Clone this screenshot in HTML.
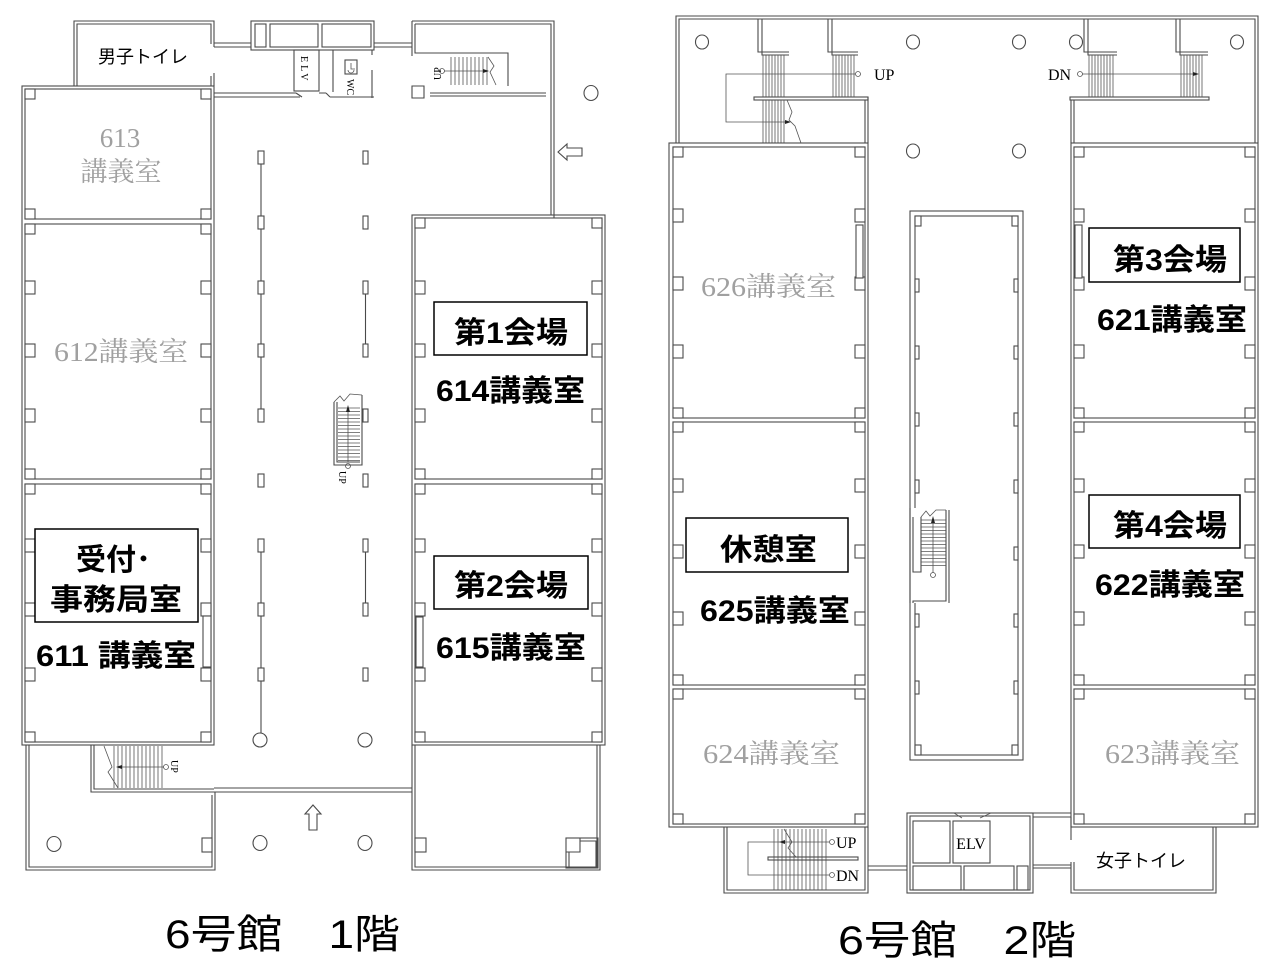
<!DOCTYPE html>
<html><head><meta charset="utf-8"><style>
html,body{margin:0;padding:0;background:#fff;}
svg{display:block;}
.w{fill:none;stroke:#4a4a4a;stroke-width:1.1}
.n{fill:#fff;stroke:#4a4a4a;stroke-width:1.1}
.t{fill:none;stroke:#555;stroke-width:0.8}
.k{fill:#222;stroke:none}
.g{font-family:"Liberation Serif","Noto Serif CJK SC",serif;fill:#a0a0a0;font-size:27px}
.b{font-family:"Liberation Sans","Noto Sans CJK JP",sans-serif;font-weight:bold;fill:#000;font-size:30px}
.s{font-family:"Liberation Serif","Noto Serif CJK SC",serif;fill:#000;font-size:16px}
.ss{font-family:"Liberation Serif","Noto Serif CJK SC",serif;fill:#000;font-size:10px}
.j{font-family:"Liberation Sans","Noto Sans CJK JP",sans-serif;fill:#000;font-size:18px}
.ttl{font-family:"Liberation Sans","Noto Sans CJK JP",sans-serif;fill:#000;font-size:40px}
.box{fill:#fff;stroke:#000;stroke-width:1.5}
</style></head><body>
<svg width="1272" height="970" viewBox="0 0 1272 970" xmlns="http://www.w3.org/2000/svg">
<rect x="0" y="0" width="1272" height="970" fill="#fff"/>

<!-- ================= 1F ================= -->
<!-- men's toilet -->
<path class="w" d="M74,86V21H214V47M214,73V86M77,86V24H211V44M211,76V86"/>
<path class="w" d="M214,43H251M214,47H251"/>
<!-- top block -->
<rect class="w" x="251" y="21" width="123" height="29"/>
<rect class="w" x="255" y="24" width="11" height="23"/>
<rect class="w" x="270" y="24" width="48" height="23"/>
<rect class="w" x="322" y="24" width="49" height="23"/>
<rect class="w" x="294" y="50" width="25" height="41"/>
<path class="w" d="M333,50V92M372,50V55M372,70V98M214,93H296M214,97H300M319,93H326M330,97H374M296,93L302,97M326,93L330,97"/>
<text class="ss" transform="translate(301,56) rotate(90)" letter-spacing="3">ELV</text>
<rect class="w" x="345" y="60" width="12" height="14"/>
<path class="t" d="M348,70a3,3 0 1,0 6,0M351,63V69H355"/>
<text class="ss" transform="translate(347,79) rotate(90)" font-size="11">WC</text>
<path class="w" d="M374,43H412M374,47H412"/>
<!-- stair block top right -->
<path class="w" d="M412,21H554V218M415,24H551V215M412,21V56M415,24V53H508V86M412,86H424V98H412Z"/>
<path class="w" d="M430,93H546M430,96H546"/>
<path class="t" d="M451,57V85M455,57V85M459,57V85M463,57V85M467,57V85M471,57V85M475,57V85M479,57V85M483,57V85M487,57V85"/>
<path class="t" d="M444,71H488M488,57L494,66L490,72L496,85"/>
<circle class="t" cx="442" cy="71" r="2.5"/>
<polygon class="k" points="483,69 489,71 483,73"/>
<text class="ss" transform="translate(441,80) rotate(-90)">UP</text>
<!-- entrance arrow / circle -->
<polygon class="w" points="558,152 567,144 567,148 582,148 582,156 567,156 567,160"/>
<ellipse class="w" cx="591" cy="93" rx="7" ry="7.5"/>

<!-- left rooms column -->
<rect class="w" x="22" y="86" width="192" height="659"/>
<rect class="w" x="25" y="89" width="186" height="130"/>
<rect class="w" x="25" y="224" width="186" height="255"/>
<rect class="w" x="25" y="484" width="186" height="258"/>
<!-- right rooms column -->
<rect class="w" x="412" y="215" width="193" height="530"/>
<rect class="w" x="415" y="218" width="187" height="261"/>
<rect class="w" x="415" y="484" width="187" height="258"/>

<!-- notches 1F -->
<g class="n">
<rect x="25" y="89" width="10" height="10"/><rect x="201" y="89" width="10" height="10"/>
<rect x="25" y="209" width="10" height="10"/><rect x="201" y="209" width="10" height="10"/>
<rect x="25" y="224" width="10" height="10"/><rect x="201" y="224" width="10" height="10"/>
<rect x="25" y="469" width="10" height="10"/><rect x="201" y="469" width="10" height="10"/>
<rect x="25" y="484" width="10" height="10"/><rect x="201" y="484" width="10" height="10"/>
<rect x="25" y="732" width="10" height="10"/><rect x="201" y="732" width="10" height="10"/>
<rect x="25" y="281" width="10" height="13"/><rect x="201" y="281" width="10" height="13"/>
<rect x="25" y="344" width="10" height="13"/><rect x="201" y="344" width="10" height="13"/>
<rect x="25" y="409" width="10" height="13"/><rect x="201" y="409" width="10" height="13"/>
<rect x="25" y="539" width="10" height="13"/><rect x="201" y="539" width="10" height="13"/>
<rect x="25" y="603" width="10" height="13"/><rect x="201" y="603" width="10" height="13"/>
<rect x="25" y="668" width="10" height="13"/><rect x="201" y="668" width="10" height="13"/>

<rect x="415" y="218" width="10" height="10"/><rect x="592" y="218" width="10" height="10"/>
<rect x="415" y="469" width="10" height="10"/><rect x="592" y="469" width="10" height="10"/>
<rect x="415" y="484" width="10" height="10"/><rect x="592" y="484" width="10" height="10"/>
<rect x="415" y="732" width="10" height="10"/><rect x="592" y="732" width="10" height="10"/>
<rect x="415" y="281" width="10" height="13"/><rect x="592" y="281" width="10" height="13"/>
<rect x="415" y="344" width="10" height="13"/><rect x="592" y="344" width="10" height="13"/>
<rect x="415" y="409" width="10" height="13"/><rect x="592" y="409" width="10" height="13"/>
<rect x="415" y="539" width="10" height="13"/><rect x="592" y="539" width="10" height="13"/>
<rect x="415" y="603" width="10" height="13"/><rect x="592" y="603" width="10" height="13"/>
<rect x="415" y="668" width="10" height="13"/><rect x="592" y="668" width="10" height="13"/>
<rect x="203" y="616" width="8" height="51"/>
<rect x="416" y="617" width="7" height="50"/>
</g>

<!-- corridor columns 1F -->
<path class="w" d="M261,164V409M261,552V733M365.5,294V344M365.5,552V603"/>
<g class="n">
<rect x="258" y="151" width="6" height="13"/><rect x="258" y="216" width="6" height="13"/>
<rect x="258" y="281" width="6" height="13"/><rect x="258" y="344" width="6" height="13"/>
<rect x="258" y="409" width="6" height="13"/><rect x="258" y="474" width="6" height="13"/>
<rect x="258" y="539" width="6" height="13"/><rect x="258" y="603" width="6" height="13"/>
<rect x="258" y="668" width="6" height="13"/>
<rect x="363" y="151" width="5" height="13"/><rect x="363" y="216" width="5" height="13"/>
<rect x="363" y="281" width="5" height="13"/><rect x="363" y="344" width="5" height="13"/>
<rect x="363" y="409" width="5" height="13"/><rect x="363" y="474" width="5" height="13"/>
<rect x="363" y="539" width="5" height="13"/><rect x="363" y="603" width="5" height="13"/>
<rect x="363" y="668" width="5" height="13"/>
</g>
<ellipse class="w" cx="260" cy="740" rx="7" ry="7"/>
<ellipse class="w" cx="365" cy="740" rx="7" ry="7"/>

<!-- corridor stair 1F -->
<path class="w" d="M334,402V465H362V395M337,402V462H360"/>
<path class="t" d="M334,402L340,396L344,401L350,394L362,395"/>
<path class="t" d="M338,408H360M338,411.5H360M338,415H360M338,418.5H360M338,422H360M338,425.5H360M338,429H360M338,432.5H360M338,436H360M338,439.5H360M338,443H360M338,446.5H360M338,450H360M338,453.5H360M338,457H360M338,460.5H360"/>
<path class="t" d="M348,462V408"/>
<polygon class="k" points="346,412 348,405 350,412"/>
<circle class="t" cx="348" cy="466" r="2.5"/>
<text class="ss" transform="translate(339,471) rotate(90)">UP</text>

<!-- lower 1F -->
<path class="w" d="M26,745V870H215V792M29,745V867H212V795M91,745V792H214M94,745V789H214"/>
<path class="w" d="M214,788H412M214,792H412"/>
<path class="w" d="M412,745V870H600V745M415,745V867H597V745"/>
<path class="t" d="M114,746V788M118,746V788M122,746V788M126,746V788M130,746V788M134,746V788M138,746V788M142,746V788M146,746V788M150,746V788M154,746V788M158,746V788M162,746V788"/>
<path class="t" d="M118,767H164M104,746L112,767L108,772L118,788"/>
<polygon class="k" points="122,765 116,767 122,769"/>
<circle class="t" cx="166" cy="767" r="2.5"/>
<text class="ss" transform="translate(171,760) rotate(90)" font-size="11">UP</text>
<g class="n">
<rect x="202" y="838" width="10" height="14"/>
<rect x="415" y="838" width="11" height="14"/>
</g>
<rect class="w" x="566" y="838" width="32" height="30"/>
<path class="w" d="M566,852H580V838M569,867V852M580,841H596V867"/>
<ellipse class="w" cx="54" cy="844" rx="7" ry="7.5"/>
<ellipse class="w" cx="260" cy="843" rx="7" ry="7.5"/>
<ellipse class="w" cx="365" cy="843" rx="7" ry="7.5"/>
<polygon class="w" points="313,805 321,814 317,814 317,830 309,830 309,814 305,814"/>

<!-- ================= 2F ================= -->
<path class="w" d="M676,143V16H1258V143M679,143V19H1255V143"/>
<!-- top-left stairs -->
<path class="w" d="M758,19V52H789M762,19V55H789M828,19V52H858M832,19V55H858"/>
<rect class="w" x="754" y="97" width="114" height="3"/>
<path class="w" d="M865,100V143M868,97V143"/>
<path class="t" d="M763,55V97M766,55V97M769,55V97M772,55V97M775,55V97M778,55V97M781,55V97M784,55V97M833,55V97M836,55V97M839,55V97M842,55V97M845,55V97M848,55V97M851,55V97M854,55V97"/>
<path class="t" d="M763,100V143M766,100V143M769,100V143M772,100V143M775,100V143M778,100V143M781,100V143M784,100V143"/>
<path class="t" d="M855,74H726V122H786M787,100L792,112L789,120L795,126L801,143"/>
<polygon class="k" points="785,120 791,122 785,124"/>
<circle class="t" cx="858" cy="74" r="2.5"/>
<text class="s" x="874" y="80">UP</text>
<!-- top-right stairs -->
<path class="w" d="M1084,19V52H1117M1088,19V55H1117M1176,19V52H1208M1180,19V55H1208"/>
<rect class="w" x="1070" y="97" width="139" height="3"/>
<path class="w" d="M1071,100V143M1074,100V143"/>
<path class="t" d="M1089,55V97M1092,55V97M1095,55V97M1098,55V97M1101,55V97M1104,55V97M1107,55V97M1110,55V97M1113,55V97M1181,55V97M1184,55V97M1187,55V97M1190,55V97M1193,55V97M1196,55V97M1199,55V97M1202,55V97"/>
<path class="t" d="M1082,74H1196"/>
<polygon class="k" points="1193,72 1199,74 1193,76"/>
<circle class="t" cx="1080" cy="74" r="2.5"/>
<text class="s" x="1048" y="80">DN</text>
<!-- columns circles -->
<ellipse class="w" cx="702" cy="42" rx="6.5" ry="7"/>
<ellipse class="w" cx="913" cy="42" rx="6.5" ry="7"/>
<ellipse class="w" cx="1019" cy="42" rx="6.5" ry="7"/>
<ellipse class="w" cx="1076" cy="42" rx="6.5" ry="7"/>
<ellipse class="w" cx="1237" cy="42" rx="6.5" ry="7"/>
<ellipse class="w" cx="913" cy="151" rx="6.5" ry="7"/>
<ellipse class="w" cx="1019" cy="151" rx="6.5" ry="7"/>

<!-- left column 2F -->
<rect class="w" x="669" y="143" width="199" height="684"/>
<rect class="w" x="673" y="147" width="192" height="271"/>
<rect class="w" x="673" y="422" width="192" height="263"/>
<rect class="w" x="673" y="689" width="192" height="135"/>
<!-- right column 2F -->
<rect class="w" x="1071" y="143" width="187" height="684"/>
<rect class="w" x="1074" y="147" width="181" height="271"/>
<rect class="w" x="1074" y="422" width="181" height="263"/>
<rect class="w" x="1074" y="689" width="181" height="135"/>

<g class="n">
<rect x="673" y="147" width="10" height="10"/><rect x="855" y="147" width="10" height="10"/>
<rect x="673" y="408" width="10" height="10"/><rect x="855" y="408" width="10" height="10"/>
<rect x="673" y="422" width="10" height="10"/><rect x="855" y="422" width="10" height="10"/>
<rect x="673" y="675" width="10" height="10"/><rect x="855" y="675" width="10" height="10"/>
<rect x="673" y="689" width="10" height="10"/><rect x="855" y="689" width="10" height="10"/>
<rect x="673" y="814" width="10" height="10"/><rect x="855" y="814" width="10" height="10"/>
<rect x="673" y="209" width="10" height="13"/><rect x="855" y="209" width="10" height="13"/>
<rect x="673" y="277" width="10" height="13"/><rect x="855" y="277" width="10" height="13"/>
<rect x="673" y="345" width="10" height="13"/><rect x="855" y="345" width="10" height="13"/>
<rect x="673" y="479" width="10" height="13"/><rect x="855" y="479" width="10" height="13"/>
<rect x="673" y="545" width="10" height="13"/><rect x="855" y="545" width="10" height="13"/>
<rect x="673" y="612" width="10" height="13"/><rect x="855" y="612" width="10" height="13"/>

<rect x="1074" y="147" width="10" height="10"/><rect x="1245" y="147" width="10" height="10"/>
<rect x="1074" y="408" width="10" height="10"/><rect x="1245" y="408" width="10" height="10"/>
<rect x="1074" y="422" width="10" height="10"/><rect x="1245" y="422" width="10" height="10"/>
<rect x="1074" y="675" width="10" height="10"/><rect x="1245" y="675" width="10" height="10"/>
<rect x="1074" y="689" width="10" height="10"/><rect x="1245" y="689" width="10" height="10"/>
<rect x="1074" y="814" width="10" height="10"/><rect x="1245" y="814" width="10" height="10"/>
<rect x="1074" y="209" width="10" height="13"/><rect x="1245" y="209" width="10" height="13"/>
<rect x="1074" y="277" width="10" height="13"/><rect x="1245" y="277" width="10" height="13"/>
<rect x="1074" y="345" width="10" height="13"/><rect x="1245" y="345" width="10" height="13"/>
<rect x="1074" y="479" width="10" height="13"/><rect x="1245" y="479" width="10" height="13"/>
<rect x="1074" y="545" width="10" height="13"/><rect x="1245" y="545" width="10" height="13"/>
<rect x="1074" y="612" width="10" height="13"/><rect x="1245" y="612" width="10" height="13"/>
<rect x="856" y="225" width="7" height="53"/>
<rect x="1075" y="225" width="7" height="53"/>
</g>

<!-- central island 2F -->
<rect class="w" x="910" y="211" width="113" height="549"/>
<rect class="w" x="915" y="216" width="103" height="539"/>
<g class="n">
<rect x="915" y="216" width="6" height="10"/><rect x="1012" y="216" width="6" height="10"/>
<rect x="915" y="745" width="6" height="10"/><rect x="1012" y="745" width="6" height="10"/>
<rect x="915" y="279" width="4" height="13"/><rect x="1014" y="279" width="4" height="13"/>
<rect x="915" y="346" width="4" height="13"/><rect x="1014" y="346" width="4" height="13"/>
<rect x="915" y="413" width="4" height="13"/><rect x="1014" y="413" width="4" height="13"/>
<rect x="915" y="480" width="4" height="13"/><rect x="1014" y="480" width="4" height="13"/>
<rect x="1014" y="547" width="4" height="13"/>
<rect x="915" y="614" width="4" height="13"/><rect x="1014" y="614" width="4" height="13"/>
<rect x="915" y="681" width="4" height="13"/><rect x="1014" y="681" width="4" height="13"/>
</g>
<!-- island stair -->
<rect x="911" y="508" width="38" height="95" fill="#fff"/>
<path class="w" d="M910,508V603M913,517V572H921V517M921,517V572M946,510V601H913V603M949,510V603"/>
<path class="t" d="M921,517L926,511L930,516L936,510L946,510"/>
<path class="t" d="M921,520H946M921,523.5H946M921,527H946M921,530.5H946M921,534H946M921,537.5H946M921,541H946M921,544.5H946M921,548H946M921,551.5H946M921,555H946M921,558.5H946M921,562H946M921,565.5H946"/>
<path class="t" d="M933,573V519"/>
<polygon class="k" points="931,523 933,516 935,523"/>
<circle class="t" cx="933" cy="575" r="2.5" fill="#fff"/>

<!-- bottom 2F -->
<path class="w" d="M724,827V893H868V827M727,827V890H865V827"/>
<path class="t" d="M774,829V890M778,829V890M782,829V890M786,829V890M790,829V890M794,829V890M798,829V890M802,829V890M806,829V890M810,829V890M814,829V890M818,829V890M822,829V890M826,829V890"/>
<rect class="w" x="768" y="857" width="90" height="3" fill="#fff"/>
<path class="t" d="M829,842H748V875H829M784,829L792,842L788,848L796,857"/>
<polygon class="k" points="785,840 779,842 785,844"/>
<circle class="t" cx="832" cy="842" r="2.5"/>
<circle class="t" cx="832" cy="875" r="2.5"/>
<text class="s" x="836" y="848">UP</text>
<text class="s" x="836" y="881">DN</text>
<path class="w" d="M868,866H907M868,870H907"/>
<rect class="w" x="907" y="813" width="126" height="80"/>
<rect class="w" x="910" y="816" width="120" height="74"/>
<rect class="w" x="913" y="821" width="37" height="42"/>
<rect class="w" x="953" y="821" width="37" height="42"/>
<rect class="w" x="913" y="866" width="48" height="24"/>
<rect class="w" x="964" y="866" width="50" height="24"/>
<rect class="w" x="1017" y="866" width="11" height="24"/>
<path class="t" d="M954,813L962,818M991,813L980,818"/>
<text class="s" x="971" y="849" text-anchor="middle" font-size="15">ELV</text>
<path class="w" d="M1033,813H1071M1033,817H1071M1071,817V840M1033,865H1071M1033,868H1071"/>
<path class="w" d="M1071,862V893H1216V827M1074,862V890H1213V827"/>

<!-- ================= LABELS ================= -->
<text class="j" x="98" y="63" textLength="90" lengthAdjust="spacingAndGlyphs">男子トイレ</text>
<text class="j" x="1096" y="867" textLength="90" lengthAdjust="spacingAndGlyphs">女子トイレ</text>

<text class="g" x="120" y="147" text-anchor="middle">613</text>
<text class="g" x="121" y="181" text-anchor="middle">講義室</text>
<text class="g" x="54" y="361" textLength="134" lengthAdjust="spacingAndGlyphs">612講義室</text>
<text class="g" x="701" y="296" textLength="135" lengthAdjust="spacingAndGlyphs">626講義室</text>
<text class="g" x="703" y="763" textLength="137" lengthAdjust="spacingAndGlyphs">624講義室</text>
<text class="g" x="1105" y="763" textLength="135" lengthAdjust="spacingAndGlyphs">623講義室</text>

<rect class="box" x="434" y="302" width="153" height="53"/>
<text class="b" x="454" y="343" textLength="114" lengthAdjust="spacingAndGlyphs">第1会場</text>
<text class="b" x="436" y="401" textLength="149" lengthAdjust="spacingAndGlyphs">614講義室</text>

<rect class="box" x="35" y="529" width="163" height="93"/>
<text class="b" x="76" y="570">受付･</text>
<text class="b" x="50" y="610" textLength="132" lengthAdjust="spacingAndGlyphs">事務局室</text>
<text class="b" x="36" y="666" textLength="160" lengthAdjust="spacingAndGlyphs">611 講義室</text>

<rect class="box" x="434" y="556" width="154" height="53"/>
<text class="b" x="454" y="596" textLength="114" lengthAdjust="spacingAndGlyphs">第2会場</text>
<text class="b" x="436" y="658" textLength="150" lengthAdjust="spacingAndGlyphs">615講義室</text>

<rect class="box" x="1089" y="228" width="151" height="54"/>
<text class="b" x="1113" y="270" textLength="114" lengthAdjust="spacingAndGlyphs">第3会場</text>
<text class="b" x="1097" y="330" textLength="150" lengthAdjust="spacingAndGlyphs">621講義室</text>

<rect class="box" x="686" y="518" width="162" height="54"/>
<text class="b" x="720" y="560" textLength="97" lengthAdjust="spacingAndGlyphs">休憩室</text>
<text class="b" x="700" y="621" textLength="150" lengthAdjust="spacingAndGlyphs">625講義室</text>

<rect class="box" x="1089" y="495" width="151" height="53"/>
<text class="b" x="1113" y="536" textLength="114" lengthAdjust="spacingAndGlyphs">第4会場</text>
<text class="b" x="1095" y="595" textLength="150" lengthAdjust="spacingAndGlyphs">622講義室</text>

<text class="ttl" x="165" y="948" textLength="235" lengthAdjust="spacingAndGlyphs">6号館　1階</text>
<text class="ttl" x="838" y="954" textLength="238" lengthAdjust="spacingAndGlyphs">6号館　2階</text>
</svg>
</body></html>
